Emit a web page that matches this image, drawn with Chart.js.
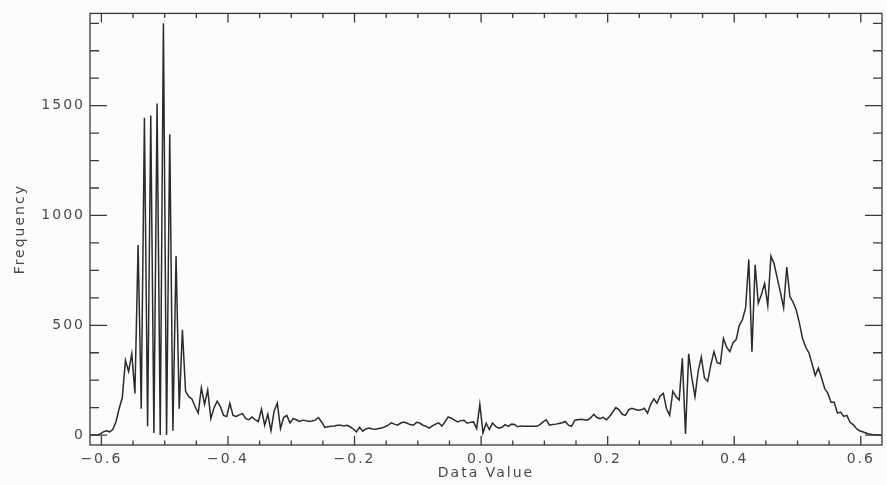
<!DOCTYPE html>
<html>
<head>
<meta charset="utf-8">
<script src="https://cdn.jsdelivr.net/npm/chart.js@4.4.1/dist/chart.umd.min.js"></script>
<style>
  html, body { margin: 0; padding: 0; background: #fcfcfa; }
  #wrap { width: 887px; height: 485px; }
</style>
</head>
<body>
<div id="wrap"><canvas id="histChart" width="887" height="485"></canvas></div>
<script>
// histogram bins: centre of first bin and bin width
const binStart = -0.617;
const binWidth = 0.005;

// frequency per bin (left to right)
const freq = [
  0, 0, 0, 5, 15, 20, 15, 25, 60, 120, 170, 340, 290, 370, 190,
  865, 120, 1445, 40, 1455, 10, 1510, 0, 1875, 0, 1370, 20, 815, 120, 480,
  200, 175, 165, 130, 100, 215, 140, 205, 75, 125, 155, 130, 90, 85, 145,
  90, 85, 92, 98, 75, 70, 83, 70, 62, 118, 45, 95, 20, 110, 145,
  30, 80, 90, 55, 75, 70, 62, 68, 66, 62, 64, 68, 80, 60, 35, 38, 40, 42, 45, 45,
  42, 45, 38, 28, 15, 36, 18, 28, 32, 28, 27, 30, 32, 38, 45, 56, 50, 45, 55, 60,
  54, 48, 45, 58, 55, 45, 40, 32, 42, 50, 56, 41, 60, 83, 77, 68, 60, 66, 68, 54,
  58, 60, 30, 140, 10, 54, 25,
  55, 40, 32, 36, 48, 40, 50, 48, 38, 42, 40, 40, 40, 40, 40, 48, 60, 70, 45, 48,
  50, 53, 56, 62, 45, 40, 68, 70, 72, 70, 68, 78, 95, 80, 75, 81, 70, 85, 105, 125,
  115, 95, 90, 115, 122, 118, 113,
  115, 122, 100, 140, 165, 145, 178, 190, 120, 90,
  200, 175, 160, 350, 5, 370, 260, 175, 290, 355,
  260, 245, 320, 380, 330, 325, 440, 400, 380, 420,
  435, 500, 525, 580, 800, 380, 775, 600, 640, 690,
  590, 815, 780, 715, 650, 580, 765, 630, 605, 570,
  510, 440, 400, 375, 325, 272, 305, 260, 212, 190,
  150, 150, 100, 105, 85, 90, 58, 48, 30, 20,
  15, 10, 5, 3, 2, 1, 0
];

const xTickLabels = [-0.6, -0.4, -0.2, 0.0, 0.2, 0.4, 0.6];
const yTickLabels = [0, 500, 1000, 1500];
const xMinorStep = 0.05;
const yMinorStep = 125;

const points = freq.map((f, i) => ({ x: +(binStart + i * binWidth).toFixed(4), y: f }));

const textColor = '#4a4a4a';
const labelFont = { family: 'DejaVu Sans', size: 14, weight: 'normal', lineHeight: 1.2 };

// IDL-style frame with inward ticks on all four sides
const frameTicks = {
  id: 'frameTicks',
  beforeDraw(chart) {
    chart.ctx.letterSpacing = '2px';
  },
  afterDatasetsDraw(chart) {
    const { ctx, chartArea: a, scales: { x, y } } = chart;
    ctx.save();
    ctx.strokeStyle = '#3a3a3a';
    ctx.lineWidth = 1.3;
    ctx.strokeRect(a.left, a.top, a.right - a.left, a.bottom - a.top);
    ctx.beginPath();
    for (let v = -0.6; v <= 0.6001; v += xMinorStep) {
      const px = x.getPixelForValue(v);
      const major = Math.abs(Math.round(v * 5) - v * 5) < 1e-6;
      const len = major ? 9 : 4.5;
      ctx.moveTo(px, a.bottom); ctx.lineTo(px, a.bottom - len);
      ctx.moveTo(px, a.top); ctx.lineTo(px, a.top + len);
    }
    for (let v = 0; v <= 1875; v += yMinorStep) {
      const py = y.getPixelForValue(v);
      const len = v % 500 === 0 ? 17 : 9;
      ctx.moveTo(a.left, py); ctx.lineTo(a.left + len, py);
      ctx.moveTo(a.right, py); ctx.lineTo(a.right - len, py);
    }
    ctx.stroke();
    ctx.restore();
  }
};

new Chart(document.getElementById('histChart'), {
  type: 'line',
  data: {
    datasets: [{
      data: points,
      borderColor: '#2b2b2b',
      borderWidth: 1.5,
      pointRadius: 0,
      tension: 0
    }]
  },
  options: {
    responsive: false,
    animation: false,
    devicePixelRatio: 1,
    layout: { padding: { top: 10, right: 5, left: 0, bottom: 0 } },
    plugins: { legend: { display: false }, tooltip: { enabled: false } },
    scales: {
      x: {
        type: 'linear',
        min: -0.618,
        max: 0.6335,
        grid: { display: false, drawTicks: false },
        border: { display: false },
        afterBuildTicks: s => { s.ticks = xTickLabels.map(v => ({ value: v })); },
        afterFit: s => { s.height = 40; },
        ticks: {
          padding: 6,
          color: textColor,
          font: labelFont,
          maxRotation: 0,
          callback: v => v.toFixed(1).replace('-', '\u2212')
        },
        title: {
          display: true,
          text: 'Data Value',
          color: textColor,
          font: labelFont,
          padding: { top: 0, bottom: 3 }
        }
      },
      y: {
        min: -45,
        max: 1920,
        grid: { display: false, drawTicks: false },
        border: { display: false },
        afterBuildTicks: s => { s.ticks = yTickLabels.map(v => ({ value: v })); },
        afterFit: s => { s.width = 90; },
        ticks: {
          padding: 5,
          color: textColor,
          font: labelFont,
          callback: v => String(v)
        },
        title: {
          display: true,
          text: 'Frequency',
          color: textColor,
          font: labelFont,
          padding: { top: 12, bottom: 0 }
        }
      }
    }
  },
  plugins: [frameTicks]
});
</script>
</body>
</html>
